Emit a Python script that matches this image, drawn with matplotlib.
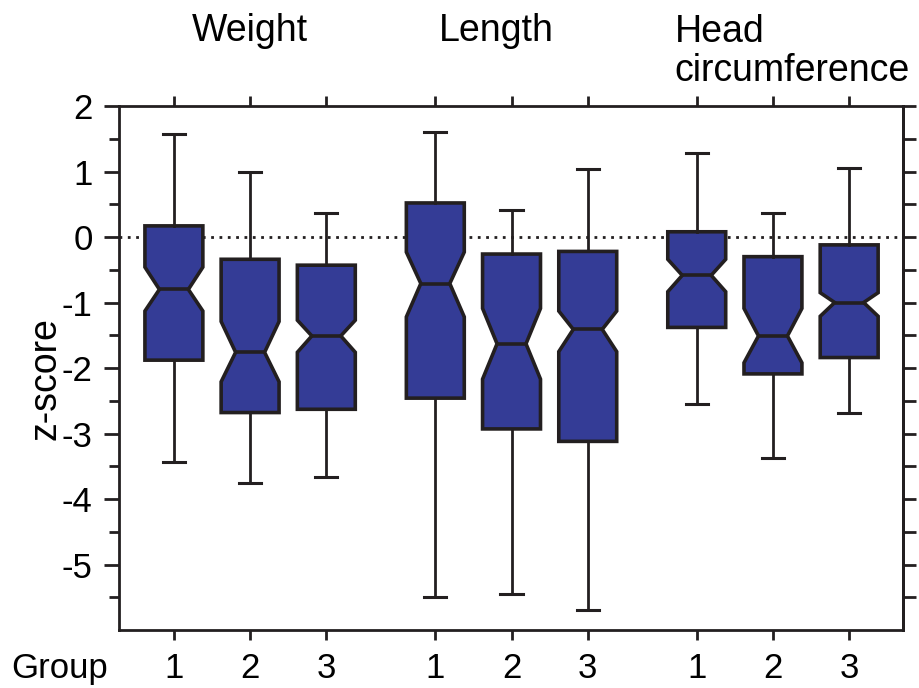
import numpy as np
import matplotlib
matplotlib.use("Agg")
import matplotlib.pyplot as plt
import matplotlib.transforms as mtransforms

plt.rcParams['font.family'] = ['Liberation Sans', 'DejaVu Sans']

# Значения z-score (по 3 группы на каждый показатель)
measures = ["Weight", "Length", "Head\ncircumference"]
groups = ["1", "2", "3"]

whishi = [1.58, 1.00, 0.36, 1.61, 0.41, 1.04, 1.28, 0.36, 1.06]
q3 = [0.17, -0.34, -0.43, 0.52, -0.26, -0.22, 0.08, -0.30, -0.12]
cihi = [-0.46, -1.29, -1.27, -0.23, -1.09, -1.13, -0.34, -1.09, -0.85]
med = [-0.80, -1.76, -1.51, -0.71, -1.63, -1.41, -0.585, -1.51, -1.00]
cilo = [-1.13, -2.21, -1.76, -1.22, -2.17, -1.75, -0.835, -1.92, -1.21]
q1 = [-1.88, -2.68, -2.63, -2.46, -2.93, -3.12, -1.38, -2.09, -1.84]
whislo = [-3.43, -3.75, -3.67, -5.50, -5.45, -5.70, -2.55, -3.38, -2.68]

# Позиции коробок: 3 группы с промежутком между показателями
gap = 1.43
positions = [g + i * gap + i * 2 for i in range(3) for g in (1, 2, 3)]

stats = []
for k in range(len(med)):
    stats.append(dict(med=med[k], q1=q1[k], q3=q3[k], whislo=whislo[k],
                      whishi=whishi[k], cilo=cilo[k], cihi=cihi[k], fliers=[]))

box_color = '#343c96'
edge = '#231f20'

fig = plt.figure(figsize=(9.19, 6.88), dpi=100)
ax = fig.add_axes([0.1295, 0.0843, 0.8534, 0.7616])

ax.axhline(0, color=edge, lw=2.0, ls=(0, (1, 2.0)), zorder=1)

ax.bxp(stats, positions=positions, widths=0.76, capwidths=0.29,
       shownotches=True, patch_artist=True, showfliers=False,
       boxprops=dict(facecolor=box_color, edgecolor=edge, linewidth=2.6),
       medianprops=dict(color=edge, linewidth=2.6),
       whiskerprops=dict(color=edge, linewidth=2.0),
       capprops=dict(color=edge, linewidth=2.2),
       zorder=2)

ax.set_xlim(0.28, 10.57)
ax.set_ylim(-6, 2)

# Оси и деления
for s in ax.spines.values():
    s.set_linewidth(2.0)
    s.set_color(edge)

ax.set_yticks(np.arange(-5, 3))
ax.set_yticklabels([str(v) for v in range(-5, 3)])
ax.set_yticks(np.arange(-5.5, 2, 1.0), minor=True)
ax.tick_params(axis='y', which='major', direction='out', length=11, width=2.0,
               labelsize=25, pad=8, colors=edge, labelcolor='black')
ax.tick_params(axis='y', which='minor', direction='out', length=7, width=2.0,
               colors=edge)

ax.set_xticks(positions)
ax.set_xticklabels(groups * 3)
ax.tick_params(axis='x', which='major', direction='out', length=7, width=2.0,
               labelsize=25, pad=9, top=True, colors=edge, labelcolor='black')

# Правая ось: деления через 0.5 без подписей
sec = ax.secondary_yaxis('right')
sec.set_yticks(np.arange(-5.5, 2.5, 0.5))
sec.set_yticklabels([])
sec.tick_params(direction='out', length=9, width=2.0, colors=edge)
sec.spines['right'].set_linewidth(2.0)

# Подписи
fig.text(0.049, 0.45, "z-score", rotation=90, fontsize=27,
         ha='center', va='center')
fig.text(0.012, 0.029, "Group", fontsize=25, ha='left', va='center')

trans = mtransforms.blended_transform_factory(ax.transData, fig.transFigure)
ax.text(positions[1], 0.94, measures[0], fontsize=27, ha='center',
        va='baseline', transform=trans)
ax.text(positions[4] - 0.2, 0.94, measures[1], fontsize=27, ha='center',
        va='baseline', transform=trans)
ax.text(positions[6] - 0.29, 0.882, measures[2], fontsize=27, ha='left',
        va='baseline', transform=trans, linespacing=1.1)

fig.savefig("out.png", dpi=100)
